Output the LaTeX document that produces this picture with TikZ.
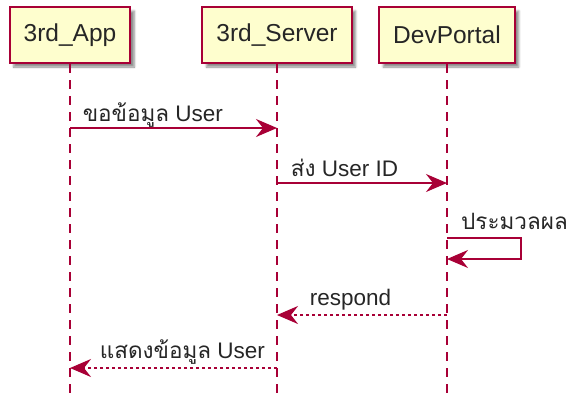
\documentclass[tikz,border=0pt]{standalone}
\usepackage{fontspec}
\setmainfont{Liberation Sans}
\newfontfamily\thaifont[Script=Thai]{Loma}
\usetikzlibrary{arrows.meta,shadows.blur}
\definecolor{umlred}{HTML}{A80036}
\definecolor{umlfill}{HTML}{FEFECE}
\begin{document}
\begin{tikzpicture}[x=1pt, y=-1pt]
    \tikzstyle{actor} = [ shape=rectangle, draw=umlred, fill=umlfill, line width=2pt, minimum height=56pt, inner xsep=14pt, font=\fontsize{24.5}{28}\selectfont, text=black!85, blur shadow={shadow xshift=4pt, shadow yshift=-4pt, shadow blur steps=6, shadow opacity=45} ];
    \tikzstyle{life} = [ umlred, line width=1.4pt, dash pattern=on 9pt off 7pt ];
    \tikzstyle{msg} = [ -{Stealth[length=21pt, width=18pt, inset=7pt]}, umlred, line width=1.6pt ];
    \tikzstyle{ret} = [ msg, dash pattern=on 3pt off 3pt ];
    \tikzstyle{txt} = [ font=\fontsize{22.5}{26}\selectfont, inner sep=0pt, anchor=base west, text=black!85 ];

    \useasboundingbox (0,0) rectangle (578,400);

    \node (nApp) [actor] at (70,35) {3rd\_App};
    \node (nServer) [actor, right of = nApp, node distance = 207pt] {3rd\_Server};
    \node (nPortal) [actor, right of = nServer, node distance = 170pt] {DevPortal};

    % lifelines
    \coordinate (cAppEnd) at (nApp |- 0,400);
    \coordinate (cServerEnd) at (nServer |- 0,400);
    \coordinate (cPortalEnd) at (nPortal |- 0,400);
    \draw [life] (nApp.south) -- (cAppEnd);
    \draw [life] (nServer.south) -- (cServerEnd);
    \draw [life] (nPortal.south) -- (cPortalEnd);

    % message rows
    \coordinate (cApp1) at (nApp |- 0,128);
    \coordinate (cServer1) at (nServer |- 0,128);
    \coordinate (cServer2) at (nServer |- 0,183);
    \coordinate (cPortal2) at (nPortal |- 0,183);
    \coordinate (cPortal3) at (nPortal |- 0,238);
    \coordinate (cPortal3b) at (nPortal |- 0,259);
    \coordinate (cSelf) at (521,248);
    \coordinate (cPortal4) at (nPortal |- 0,315);
    \coordinate (cServer4) at (nServer |- 0,315);
    \coordinate (cServer5) at (nServer |- 0,368);
    \coordinate (cApp5) at (nApp |- 0,368);

    \draw [msg] (cApp1) -- (cServer1) node [txt, pos=0, xshift=12pt, yshift=7pt] {{\thaifont ขอข้อมูล} User};
    \draw [msg] (cServer2) -- (cPortal2) node [txt, pos=0, xshift=13pt, yshift=7pt] {{\thaifont ส่ง} User ID};
    \draw [msg] (cPortal3) -| (cSelf) |- (cPortal3b);
    \node (nSelfLabel) [txt, xshift=14pt, yshift=9pt] at (cPortal3) {\thaifont ประมวลผล};
    \draw [ret] (cPortal4) -- (cServer4) node [txt, pos=1, xshift=32pt, yshift=10pt] {respond};
    \draw [ret] (cServer5) -- (cApp5) node [txt, pos=1, xshift=29pt, yshift=10pt] {{\thaifont แสดงข้อมูล} User};
\end{tikzpicture}
\end{document}
